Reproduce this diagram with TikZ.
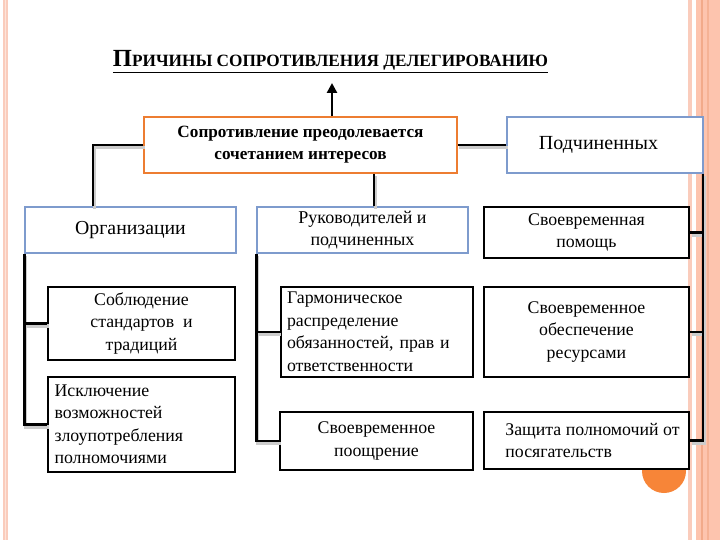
\documentclass[tikz,border=0pt]{standalone}
\usepackage{fontspec}
\setmainfont{Liberation Serif}
\usetikzlibrary{arrows.meta}
\definecolor{orng}{RGB}{237,125,49}
\definecolor{blu}{RGB}{126,155,205}
\definecolor{pinkband}{RGB}{250,204,188}
\definecolor{pinklight}{RGB}{253,228,218}
\definecolor{salmon}{RGB}{253,196,174}
\definecolor{salmondark}{RGB}{242,170,138}
\definecolor{circ}{RGB}{247,133,56}
\tikzset{
  anybox/.style={draw, fill=white, inner sep=0pt, line width=1.3pt},
  bluebox/.style={anybox, draw=blu},
  blackbox/.style={anybox, draw=black, line width=2pt},
  orangebox/.style={anybox, draw=orng, line width=1.8pt},
  boxtext/.style={font=\fontsize{17.8}{22.5}\selectfont},
  conn/.style={line width=2.3pt, draw=black},
  connshadow/.style={line width=3.2pt, draw=black!20},
  sh/.style={shift={(1.5,2.4)}},
}
\begin{document}
\begin{tikzpicture}[x=1pt,y=-1pt]
\useasboundingbox (0,0) rectangle (720,540);
\fill[white] (0,0) rectangle (720,540);
% frame
\fill[pinkband] (2.7,0) rectangle (8.3,540);
\fill[pinklight] (4.8,0) rectangle (6.2,540);
\fill[pinkband] (687.7,0) rectangle (691.7,540);
\fill[salmon] (696,0) rectangle (720,540);
\fill[salmondark] (700.7,0) rectangle (702.7,540);
\fill[salmondark!70!salmon] (706.7,0) rectangle (708.7,540);
\fill[circ] (664,471) circle (22);

% title
\node (title) at (330.5,62) {\resizebox{435pt}{!}{\bfseries\underline{\fontsize{20}{20}\selectfont П\fontsize{14}{14}\selectfont РИЧИНЫ СОПРОТИВЛЕНИЯ ДЕЛЕГИРОВАНИЮ}}};
\coordinate (arrowtip) at (332,83);

% boxes
\node[orangebox, minimum width=313, minimum height=56, align=center,
      font=\bfseries\fontsize{17.2}{22}\selectfont] (cen) at (300.5,145)
      {Сопротивление преодолевается\\сочетанием интересов};
\node[bluebox, minimum width=196, minimum height=56, font=\fontsize{20}{22}\selectfont] (sub) at (605,145) {\hspace*{-13pt}Подчиненных};
\node[bluebox, minimum width=211, minimum height=46, font=\fontsize{19.8}{22}\selectfont] (org) at (130.5,230) {Организации};
\node[bluebox, minimum width=211, minimum height=46, font=\fontsize{18}{22}\selectfont, align=center] (ruk) at (362.5,230) {Руководителей и\\подчиненных};
\node[blackbox, minimum width=205, minimum height=51, boxtext, align=center] (pom) at (586.5,232.5) {Своевременная\\помощь};

\node[blackbox, minimum width=187, minimum height=73, boxtext, align=center] (sobl) at (141.5,323.5) {Соблюдение\\стандартов\ \ и\\традиций};
\node[blackbox, text width=174, inner xsep=6.5, minimum height=95, boxtext, align=left] (iskl) at (141.5,424.5) {Исключение\\возможностей\\злоупотребления\\полномочиями};

\node[blackbox, text width=179, inner xsep=6.5, minimum height=90, boxtext, align=left] (garm) at (376.5,332) {Гармоническое\\распределение\\обязанностей, прав и\\ответственности};
\node[blackbox, minimum width=193, minimum height=58, boxtext, align=center] (poo) at (376.5,441) {Своевременное\\поощрение};

\node[blackbox, minimum width=205, minimum height=90, boxtext, align=center] (res) at (586.5,332) {Своевременное\\обеспечение\\ресурсами};
\node[blackbox, minimum width=205, minimum height=57, boxtext, align=left] (zas) at (586.5,440.5) {\hspace*{12pt}Защита полномочий от\\\hspace*{12pt}посягательств};

% helper coordinates
\coordinate (orgtop) at ([xshift=-37.5pt]org.north);
\coordinate (ruktop) at ([xshift=11.5pt]ruk.north);
\coordinate (rspine) at ([xshift=-1pt]sub.south east);

% connector shadows
\draw[connshadow] ([sh]cen.west) -| ([sh]orgtop);
\draw[connshadow] ([sh]ruktop) -- ([sh]ruktop |- cen.south);
\draw[connshadow] ([sh]cen.east) -- ([sh]sub.west);
\draw[connshadow] ([sh]org.south west) |- ([sh]iskl.west);
\draw[connshadow] ([sh]sobl.west) -- ([sh]sobl.west -| org.south west);
\draw[connshadow] ([sh]ruk.south west) |- ([sh]poo.west);
\draw[connshadow] ([sh]garm.west) -- ([sh]garm.west -| ruk.south west);
\draw[connshadow] ([sh]rspine) |- ([sh]zas.east);
\draw[connshadow] ([sh]pom.east) -- ([sh]pom.east -| rspine);
\draw[connshadow] ([sh]res.east) -- ([sh]res.east -| rspine);

% connectors
\draw[conn] (cen.west) -| (orgtop);
\draw[conn] (ruktop) -- (ruktop |- cen.south);
\draw[conn] (cen.east) -- (sub.west);
\draw[-{Triangle[length=10pt,width=10pt]}, line width=2.8pt] (cen.north -| arrowtip) -- (arrowtip);

\draw[conn] (org.south west) |- (iskl.west);
\draw[conn] (sobl.west) -- (sobl.west -| org.south west);

\draw[conn] (ruk.south west) |- (poo.west);
\draw[conn] (garm.west) -- (garm.west -| ruk.south west);

\draw[conn] (rspine) |- (zas.east);
\draw[conn] (pom.east) -- (pom.east -| rspine);
\draw[conn] (res.east) -- (res.east -| rspine);
\end{tikzpicture}
\end{document}
